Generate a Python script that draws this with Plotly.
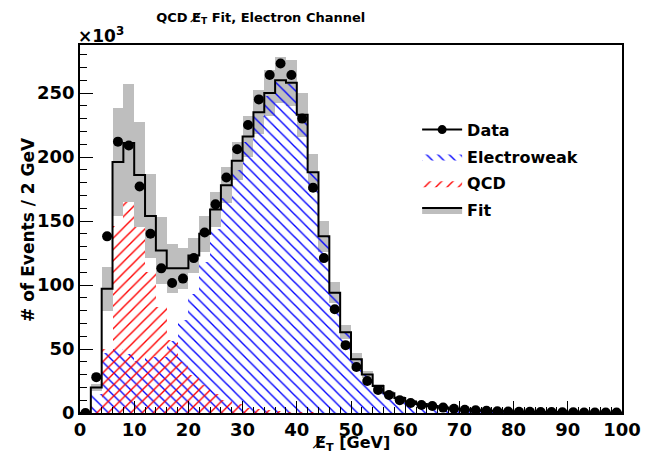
import numpy as np
import plotly.graph_objects as go

# ---- data (values in units of 10^3 events per 2 GeV bin) ----
bin_lo = 0
bin_width = 2
n_bins = 50

data_vals = [0, 28, 138, 212, 209, 177, 140, 113, 101.5, 105,
             121, 141, 163, 184, 206, 225, 245, 264, 273, 264,
             230, 176, 121, 81, 53, 36, 25, 18, 14, 10,
             7.8, 6.3, 5.5, 4.2, 3.3, 2.6, 2.1, 1.7, 1.4, 1.2,
             1.0, 0.9, 0.8, 0.7, 0.6, 0.5, 0.45, 0.4, 0.35, 0.3]

fit_vals = [0, 20, 97, 196, 211, 186, 154, 127, 113, 113,
            123, 140, 159, 178, 197, 216, 235, 250, 260, 258,
            233, 188, 138, 94, 63, 42, 30, 21, 15.5, 11.7,
            9, 7, 5.5, 4.3, 3.4, 2.7, 2.2, 1.8, 1.5, 1.25,
            1.05, 0.9, 0.8, 0.7, 0.6, 0.5, 0.45, 0.4, 0.35, 0.3]

qcd_vals = [0, 5, 50, 146, 165, 145, 110, 83, 57, 40,
            30, 22, 15, 10, 7, 4, 3, 2, 1.5, 1,
            0.8, 0.5, 0.3, 0.2, 0.1, 0, 0, 0, 0, 0,
            0, 0, 0, 0, 0, 0, 0, 0, 0, 0,
            0, 0, 0, 0, 0, 0, 0, 0, 0, 0]

ew_vals = [0, 15, 47, 50, 46, 41, 44, 44, 56, 73,
           93, 118, 144, 168, 190, 212, 232, 248, 258.5, 257,
           232, 187.5, 137.7, 94, 63, 42, 30, 21, 15.5, 11.7,
           9, 7, 5.5, 4.3, 3.4, 2.7, 2.2, 1.8, 1.5, 1.25,
           1.05, 0.9, 0.8, 0.7, 0.6, 0.5, 0.45, 0.4, 0.35, 0.3]

fit_err = [0, 3, 17, 42, 46, 41, 33, 26, 19, 16,
           14, 14, 14, 14, 15, 16, 17, 18, 18, 18,
           17, 14, 12, 8, 5.5, 4.5, 3, 2, 1.5, 1.2,
           1, 0.8, 0.6, 0.5, 0.4, 0.3, 0.3, 0.2, 0.2, 0.2,
           0.2, 0.1, 0.1, 0.1, 0.1, 0.1, 0.1, 0.1, 0.1, 0.1]

x_ticks = [0, 10, 20, 30, 40, 50, 60, 70, 80, 90, 100]
y_ticks = [0, 50, 100, 150, 200, 250]

# ---- derived bin geometry ----
edges = bin_lo + bin_width * np.arange(n_bins + 1)
centers = 0.5 * (edges[:-1] + edges[1:])
fit = np.array(fit_vals)
err = np.array(fit_err)

FONT = "DejaVu Sans"
STIPPLE = dict(shape=".", fgcolor="#505050", bgcolor="#dcdcdc", size=2, solidity=0.5)
EW_HATCH = dict(shape="\\", fgcolor="#0000ff", bgcolor="rgba(0,0,0,0)", size=8,
                solidity=0.17, fillmode="overlay", fgopacity=1)
QCD_HATCH = dict(shape="/", fgcolor="#ff0000", bgcolor="rgba(0,0,0,0)", size=8,
                 solidity=0.17, fillmode="overlay", fgopacity=1)

fig = go.Figure()

# fit uncertainty band (stipple)
fig.add_trace(go.Bar(
    x=centers, y=2 * err, base=fit - err, width=bin_width,
    marker=dict(color="#dcdcdc", line=dict(width=0), pattern=STIPPLE),
    showlegend=False, hoverinfo="skip"))

# electroweak (blue hatch)
fig.add_trace(go.Bar(
    x=centers, y=ew_vals, width=bin_width,
    marker=dict(color="rgba(0,0,0,0)", line=dict(width=0), pattern=EW_HATCH),
    showlegend=False, hoverinfo="skip"))

# QCD (red hatch)
fig.add_trace(go.Bar(
    x=centers, y=qcd_vals, width=bin_width,
    marker=dict(color="rgba(0,0,0,0)", line=dict(width=0), pattern=QCD_HATCH),
    showlegend=False, hoverinfo="skip"))

# fit step line
fit_step_y = np.append(fit, fit[-1])
fig.add_trace(go.Scatter(
    x=edges, y=fit_step_y, mode="lines", line=dict(color="black", width=2, shape="hv"),
    showlegend=False, hoverinfo="skip"))

# data points
fig.add_trace(go.Scatter(
    x=centers, y=data_vals, mode="markers",
    marker=dict(color="black", size=10), showlegend=False))

# legend-only entries
fig.add_trace(go.Scatter(
    x=[None], y=[None], mode="lines+markers", name="Data",
    line=dict(color="black", width=2), marker=dict(color="black", size=9),
    legendrank=1, legendgroup="data"))
fig.add_trace(go.Scatter(
    x=[None], y=[None], mode="lines", name="Electroweak", fill="toself",
    fillcolor="rgba(0,0,0,0)", fillpattern=EW_HATCH,
    line=dict(color="rgba(0,0,0,0)", width=0),
    legendrank=2, legendgroup="ew"))
fig.add_trace(go.Scatter(
    x=[None], y=[None], mode="lines", name="QCD", fill="toself",
    fillcolor="rgba(0,0,0,0)", fillpattern=QCD_HATCH,
    line=dict(color="rgba(0,0,0,0)", width=0),
    legendrank=3, legendgroup="qcd"))
fig.add_trace(go.Scatter(
    x=[None], y=[None], mode="lines", name="Fit", fill="toself",
    fillcolor="#dcdcdc", fillpattern=STIPPLE,
    line=dict(color="black", width=2),
    legendrank=4, legendgroup="fit"))

fig.update_layout(
    width=643, height=447,
    margin=dict(l=72, r=29, t=37, b=42, autoexpand=False),
    paper_bgcolor="white", plot_bgcolor="white",
    barmode="overlay", bargap=0,
    font=dict(family=FONT, color="black", size=16, weight="bold"),
    title=dict(text="QCD E\u0338<sub>T</sub> Fit, Electron Channel",
               x=0.393, xanchor="center", y=0.99, yanchor="top",
               font=dict(size=13, family=FONT, weight="bold")),
    legend=dict(x=0.622, y=0.816, xanchor="left", yanchor="top",
                bgcolor="rgba(0,0,0,0)", borderwidth=0,
                font=dict(size=16, family=FONT, weight="bold"),
                traceorder="grouped", tracegroupgap=3, itemwidth=40),
    showlegend=True,
)

fig.update_xaxes(
    range=[0, 100], tickvals=x_ticks, ticktext=[str(v) for v in x_ticks],
    ticks="inside", ticklen=12, tickwidth=1, tickcolor="black",
    minor=dict(dtick=2, ticks="inside", ticklen=6, tickcolor="black", tickwidth=1),
    showline=True, linecolor="black", linewidth=1.5, mirror=True,
    showgrid=False, zeroline=False, automargin=False,
    tickfont=dict(size=18, family=FONT, weight="bold"),
)
fig.update_yaxes(
    range=[0, 287.5], tickvals=y_ticks, ticktext=[str(v) for v in y_ticks],
    ticks="inside", ticklen=13, tickwidth=1, tickcolor="black",
    minor=dict(dtick=10, ticks="inside", ticklen=7, tickcolor="black", tickwidth=1),
    showline=True, linecolor="black", linewidth=1.5, mirror=True,
    showgrid=False, zeroline=False, automargin=False,
    tickfont=dict(size=18, family=FONT, weight="bold"),
)

# axis titles and exponent label
fig.add_annotation(text="E\u0338<sub>T</sub> [GeV]", xref="paper", yref="paper",
                   x=0.5, y=-0.082, xanchor="center", yanchor="middle", showarrow=False,
                   font=dict(size=16, family=FONT, weight="bold"))
fig.add_annotation(text="# of Events / 2 GeV", xref="paper", yref="paper",
                   x=-0.096, y=0.5, xanchor="center", yanchor="middle", showarrow=False,
                   textangle=-90, font=dict(size=17, family=FONT, weight="bold"))
fig.add_annotation(text="\u00d710<sup>3</sup>", xref="paper", yref="paper",
                   x=0, y=1.0, xanchor="left", yanchor="bottom", showarrow=False,
                   font=dict(size=17, family=FONT, weight="bold"), xshift=-4, yshift=-3)

fig.write_html("out.html")
